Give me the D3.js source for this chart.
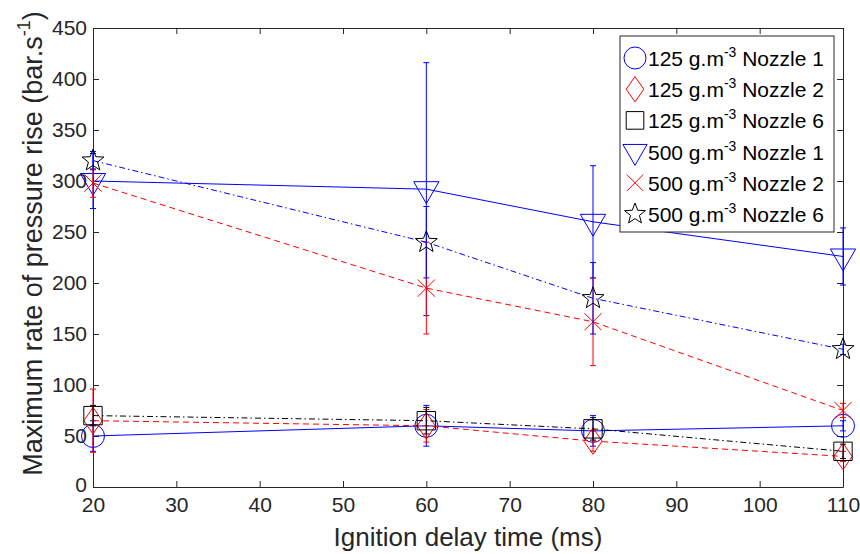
<!DOCTYPE html>
<html>
<head>
<meta charset="utf-8">
<script src="https://cdn.jsdelivr.net/npm/d3@7"></script>
<style>
  body { margin: 0; background: #fff; }
  svg { font-family: "Liberation Sans", Arial, Helvetica, sans-serif; }
</style>
</head>
<body>
<div id="D3"></div>
<script>
// ignition delay times (ms)
var delays = [20, 60, 80, 110];

// series labels
var concs = ["125", "125", "125", "500", "500", "500"];
var nozzles = ["Nozzle 1", "Nozzle 2", "Nozzle 6", "Nozzle 1", "Nozzle 2", "Nozzle 6"];

// mean values (bar/s)
var c125n1 = [50, 60, 55, 60];
var c125n2 = [65, 60, 45, 30];
var c125n6 = [70, 65, 57, 35];
var c500n1 = [300, 292, 260, 226];
var c500n2 = [298, 195, 162, 75];
var c500n6 = [320, 240, 185, 135];

// error half widths
var e125n1 = [15, 20, 15, 5];
var e125n2 = [31, 16, 10, 5];
var e125n6 = [10, 13, 11, 7];
var e500n1 = [27, 124, 55, 28];
var e500n2 = [14, 45, 43, 7];
var e500n6 = [9, 35, 35, 5];

var xTicks = [20, 30, 40, 50, 60, 70, 80, 90, 100, 110];
var yTicks = [0, 50, 100, 150, 200, 250, 300, 350, 400, 450];

var series = [
  {vals: c125n1, errs: e125n1, color: "#0000ff", mcolor: "#0000ff", dash: null, marker: "circle"},
  {vals: c125n2, errs: e125n2, color: "#ff0000", mcolor: "#ff0000", dash: "6,4", marker: "diamond"},
  {vals: c125n6, errs: e125n6, color: "#000000", mcolor: "#000000", dash: "6,3,1.5,3", marker: "square"},
  {vals: c500n1, errs: e500n1, color: "#0000ff", mcolor: "#0000ff", dash: null, marker: "tridown"},
  {vals: c500n2, errs: e500n2, color: "#ff0000", mcolor: "#ff0000", dash: "6,4", marker: "cross"},
  {vals: c500n6, errs: e500n6, color: "#0000ff", mcolor: "#000000", dash: "6,3,1.5,3", marker: "star"}
];

var W = 860, H = 554;
var mL = 93, mR = 843, mT = 28, mB = 487;

var svg = d3.select("#D3").append("svg").attr("width", W).attr("height", H);

var x = d3.scaleLinear().domain([20, 110]).range([mL, mR]);
var y = d3.scaleLinear().domain([0, 450]).range([mB, mT]);

var axisColor = "#262626";

// axes with inward ticks, box on
var gx = svg.append("g").attr("transform", "translate(0," + mB + ")")
  .call(d3.axisBottom(x).tickValues(xTicks).tickSizeInner(-6).tickSizeOuter(0).tickPadding(10));
var gxt = svg.append("g").attr("transform", "translate(0," + mT + ")")
  .call(d3.axisTop(x).tickValues(xTicks).tickSizeInner(-6).tickSizeOuter(0).tickFormat(""));
var gy = svg.append("g").attr("transform", "translate(" + mL + ",0)")
  .call(d3.axisLeft(y).tickValues(yTicks).tickSizeInner(-6).tickSizeOuter(0).tickPadding(6));
var gyr = svg.append("g").attr("transform", "translate(" + mR + ",0)")
  .call(d3.axisRight(y).tickValues(yTicks).tickSizeInner(-6).tickSizeOuter(0).tickFormat(""));

[gx, gxt, gy, gyr].forEach(function (g) {
  g.selectAll("path").attr("stroke", axisColor);
  g.selectAll("line").attr("stroke", axisColor);
  g.selectAll("text").attr("fill", axisColor).attr("font-size", 21).attr("font-family", "Liberation Sans, Arial, sans-serif");
});
// lift the y "0" label a little so it does not touch the x "20"
gy.selectAll(".tick text").filter(function (d) { return d === 0; }).attr("dy", "0.2em");

function markerPath(type, s) {
  var p = d3.path();
  if (type === "circle") {
    p.arc(0, 0, s, 0, 2 * Math.PI);
  } else if (type === "diamond") {
    p.moveTo(0, -s * 1.15); p.lineTo(s * 0.8, 0); p.lineTo(0, s * 1.15); p.lineTo(-s * 0.8, 0); p.closePath();
  } else if (type === "square") {
    p.rect(-s * 0.8, -s * 0.8, s * 1.6, s * 1.6);
  } else if (type === "tridown") {
    p.moveTo(-s * 1.1, -s * 0.65); p.lineTo(s * 1.1, -s * 0.65); p.lineTo(0, s * 1.25); p.closePath();
  } else if (type === "cross") {
    var c = s * 0.75;
    p.moveTo(-c, -c); p.lineTo(c, c); p.moveTo(-c, c); p.lineTo(c, -c);
  } else if (type === "star") {
    for (var k = 0; k < 10; k++) {
      var r = (k % 2 === 0) ? s : s * 0.42;
      var a = -Math.PI / 2 + k * Math.PI / 5;
      if (k === 0) p.moveTo(r * Math.cos(a), r * Math.sin(a));
      else p.lineTo(r * Math.cos(a), r * Math.sin(a));
    }
    p.closePath();
  }
  return p.toString();
}

var plot = svg.append("g");
var line = d3.line().x(function (d, i) { return x(delays[i]); }).y(function (d) { return y(d); });

series.forEach(function (s) {
  // connecting line
  plot.append("path").datum(s.vals)
    .attr("d", line)
    .attr("fill", "none")
    .attr("stroke", s.color)
    .attr("stroke-width", 1)
    .attr("stroke-dasharray", s.dash);

  // error bars
  var eb = plot.append("g").attr("stroke", s.color).attr("stroke-width", 1);
  s.vals.forEach(function (v, i) {
    var cx = x(delays[i]), lo = y(v - s.errs[i]), hi = y(v + s.errs[i]);
    eb.append("line").attr("x1", cx).attr("x2", cx).attr("y1", lo).attr("y2", hi);
    eb.append("line").attr("x1", cx - 3).attr("x2", cx + 3).attr("y1", lo).attr("y2", lo);
    eb.append("line").attr("x1", cx - 3).attr("x2", cx + 3).attr("y1", hi).attr("y2", hi);
  });

  // markers
  plot.append("g").selectAll("path").data(s.vals).enter().append("path")
    .attr("transform", function (d, i) { return "translate(" + x(delays[i]) + "," + y(d) + ")"; })
    .attr("d", markerPath(s.marker, 11.5))
    .attr("fill", "none")
    .attr("stroke", s.mcolor)
    .attr("stroke-width", 1);
});

// legend
var lg = svg.append("g").attr("transform", "translate(620,36)");
lg.append("rect").attr("x", 0).attr("y", 0).attr("width", 214).attr("height", 196)
  .attr("fill", "#fff").attr("stroke", axisColor).attr("stroke-width", 1);
series.forEach(function (s, i) {
  var yy = 22 + i * 31.2;
  lg.append("path").attr("transform", "translate(15," + yy + ")")
    .attr("d", markerPath(s.marker, 11))
    .attr("fill", "none").attr("stroke", s.mcolor).attr("stroke-width", 1);
  var t = lg.append("text").attr("x", 28).attr("y", yy + 8).attr("font-size", 21).attr("fill", "#000");
  t.append("tspan").text(concs[i] + " g.m");
  t.append("tspan").attr("font-size", 14).attr("dy", -9).text("-3");
  t.append("tspan").attr("dy", 9).text(" " + nozzles[i]);
});

// axis titles
svg.append("text").attr("x", (mL + mR) / 2).attr("y", 546)
  .attr("text-anchor", "middle").attr("font-size", 26).attr("fill", axisColor)
  .text("Ignition delay time (ms)");

var yt = svg.append("text").attr("transform", "translate(42," + ((mT + mB) / 2 - 14) + ") rotate(-90)")
  .attr("text-anchor", "middle").attr("font-size", 27).attr("fill", axisColor);
yt.append("tspan").text("Maximum rate of pressure rise (bar.s");
yt.append("tspan").attr("font-size", 18).attr("dy", -12).text("-1");
yt.append("tspan").attr("dy", 12).text(")");
</script>
</body>
</html>
